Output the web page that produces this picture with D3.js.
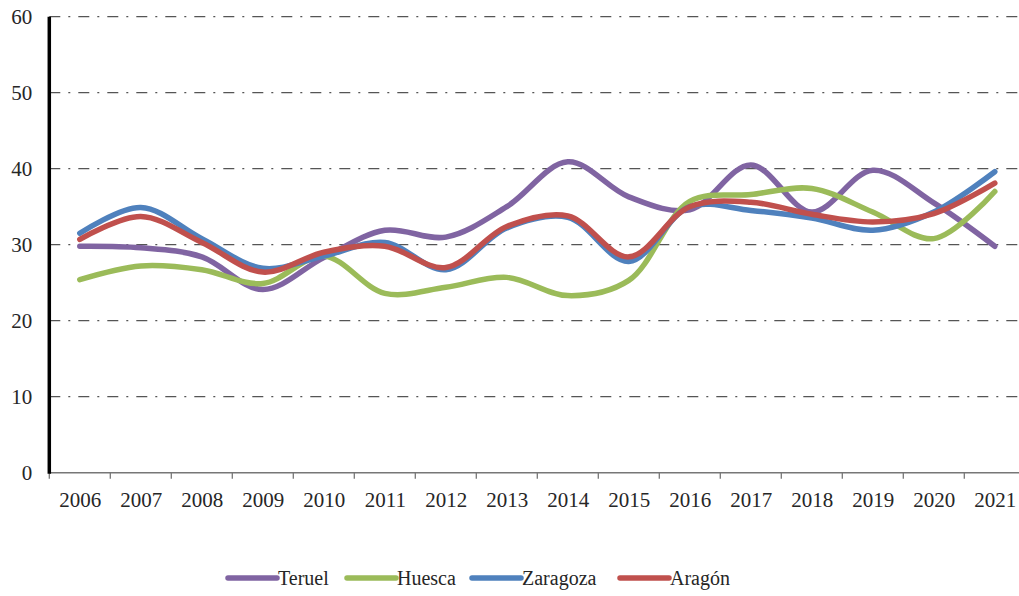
<!DOCTYPE html>
<html><head><meta charset="utf-8">
<script src="https://cdn.jsdelivr.net/npm/d3@7"></script>
<style>html,body{margin:0;padding:0;background:#fff;}svg{display:block;}
svg text{font-family:"Liberation Serif","Times New Roman","DejaVu Serif",serif;}</style>
</head><body>
<svg id="chart" width="1019" height="596"></svg>
<script>
const years = ["2006","2007","2008","2009","2010","2011","2012","2013","2014","2015","2016","2017","2018","2019","2020","2021"];
const teruel   = [29.8,29.6,28.4,24.1,28.3,31.9,31.0,35.0,40.9,36.3,34.6,40.5,34.3,39.8,35.5,29.8];
const huesca   = [25.4,27.2,26.7,24.9,28.5,23.6,24.4,25.7,23.3,25.3,35.7,36.6,37.4,34.3,30.8,37.0];
const zaragoza = [31.5,34.9,30.8,26.9,28.5,30.3,26.7,32.2,33.6,27.8,35.0,34.5,33.5,31.9,34.3,39.6];
const aragon   = [30.7,33.7,30.3,26.4,29.0,29.8,27.0,32.4,33.8,28.4,35.0,35.6,34.0,33.0,34.1,38.1];
const seriesNames = ["Teruel","Huesca","Zaragoza","Aragón"];
const seriesColors = ["#8064A2","#9BBB59","#4F81BD","#C0504D"];
const yTicks = [0,10,20,30,40,50,60];

(function () {
const seriesData = [teruel, huesca, zaragoza, aragon];
const svg = d3.select("#chart");
const plotLeft = 49.3, plotBottom = 472.7, plotTop = 16.7, plotRight = 1025.3;

const xb = d3.scaleBand().domain(years).range([plotLeft, plotRight]);
const xp = d3.scalePoint().domain(years).range([plotLeft, plotRight]).padding(0.5);
const y = d3.scaleLinear().domain([0, 60]).range([plotBottom, plotTop]);

// gridlines
svg.append("g").selectAll("line").data(yTicks.filter(d => d > 0)).join("line")
  .attr("x1", plotLeft).attr("x2", 1019)
  .attr("y1", d => y(d)).attr("y2", d => y(d))
  .attr("stroke", "#555").attr("stroke-width", 1.3)
  .attr("stroke-dasharray", "11,8,2,8");

// y labels
const yAxis = d3.axisLeft(y).tickValues(yTicks).tickSize(0).tickPadding(0);
const gy = svg.append("g").attr("transform", `translate(${plotLeft - 17},0)`).call(yAxis);
gy.select(".domain").remove();
gy.attr("font-family", null).attr("font-size", null);
gy.selectAll("text").style("font-size", "21px").attr("fill", "#262626");

// x axis line and ticks
svg.append("line").attr("x1", plotLeft).attr("x2", 1019).attr("y1", plotBottom).attr("y2", plotBottom)
  .attr("stroke", "#777").attr("stroke-width", 1.5);
const tickPos = years.map(d => xb(d)).concat([xb(years[years.length-1]) + xb.bandwidth()]);
svg.append("g").selectAll("line").data(tickPos).join("line")
  .attr("x1", d => d).attr("x2", d => d).attr("y1", plotBottom).attr("y2", plotBottom + 6)
  .attr("stroke", "#777").attr("stroke-width", 1.3);
const xAxis = d3.axisBottom(xp).tickSize(0).tickPadding(0);
const gx = svg.append("g").attr("transform", `translate(0,${plotBottom + 19})`).call(xAxis);
gx.select(".domain").remove();
gx.attr("font-family", null).attr("font-size", null);
gx.selectAll("text").style("font-size", "21px").attr("fill", "#262626");

// y axis line
svg.append("line").attr("x1", plotLeft).attr("x2", plotLeft).attr("y1", plotTop).attr("y2", plotBottom + 1)
  .attr("stroke", "#000").attr("stroke-width", 3.5);

// series
const line = d3.line().x((d, i) => xp(years[i])).y(d => y(d)).curve(d3.curveCatmullRom.alpha(0.5));
seriesData.forEach((s, k) => {
  svg.append("path").datum(s).attr("d", line)
    .attr("fill", "none").attr("stroke", seriesColors[k]).attr("stroke-width", 5.5)
    .attr("stroke-linecap", "round").attr("stroke-linejoin", "round");
});

// legend
const legendX = [228, 347, 472, 620];
const lg = svg.append("g");
seriesNames.forEach((n, k) => {
  lg.append("line").attr("x1", legendX[k]).attr("x2", legendX[k] + 49)
    .attr("y1", 578).attr("y2", 578)
    .attr("stroke", seriesColors[k]).attr("stroke-width", 5.5).attr("stroke-linecap", "round");
  lg.append("text").attr("x", legendX[k] + 50).attr("y", 585)
    .style("font-size", "20px").attr("fill", "#262626").text(n);
});
})();
</script>
</body></html>
